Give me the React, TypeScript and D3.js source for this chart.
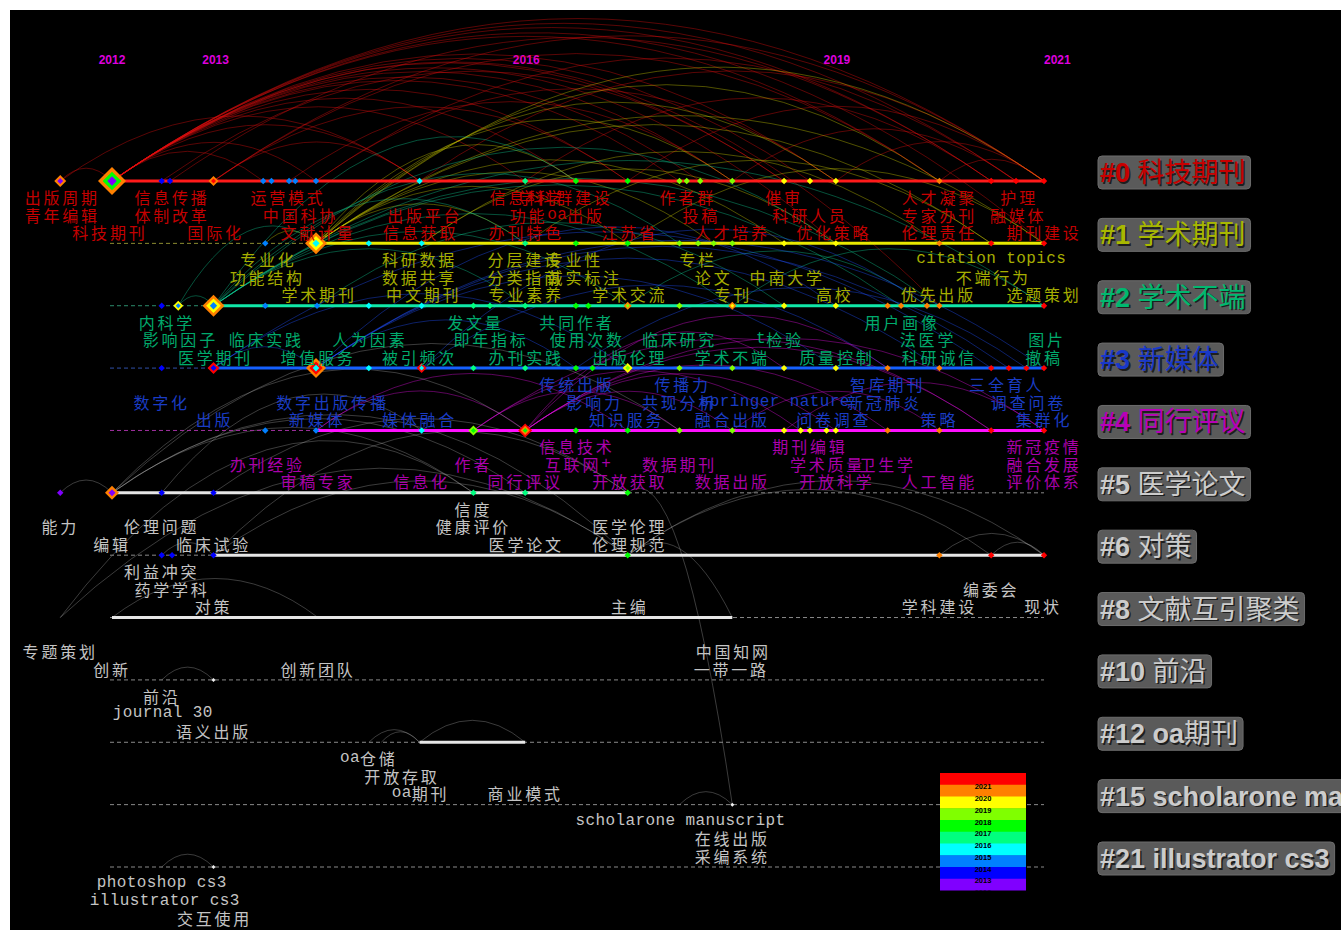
import React from "react";
import * as d3 from "d3";

// ---------- data ----------
const clusterIds = ["#0", "#1", "#2", "#3", "#4", "#5", "#6", "#8", "#10", "#12", "#15", "#21"];
const clusterNames = ["科技期刊", "学术期刊", "学术不端", "新媒体", "同行评议", "医学论文", "对策", "文献互引聚类", "前沿", "oa期刊", "scholarone manuscript", "illustrator cs3"];
const solidStart: (number | null)[] = [2012, 2013.97, 2012.98, 2012.98, 2013.97, 2012, 2012.98, 2012, null, 2014.97, null, null];
const solidEnd: (number | null)[] = [2021, 2021, 2021, 2021, 2021, 2016.98, 2021, 2017.99, null, 2015.99, null, null];

const yearTicks = [2012, 2013, 2016, 2019, 2021];
const legendYears = [2021, 2020, 2019, 2018, 2017, 2016, 2015, 2014, 2013, 2012];
const yearPalette = ["#ff0000", "#ff8000", "#ffff00", "#80ff00", "#00ff00", "#00ff80", "#00ffff", "#0080ff", "#0000ff", "#8000ff"];

const nodes0 = [2011.5, 2012, 2012.48, 2012.56, 2012.98, 2013.46, 2013.54, 2013.71, 2013.77, 2013.97, 2014.97, 2015.99, 2016.48, 2016.98, 2017.48, 2017.55, 2017.68, 2017.99, 2018.49, 2018.74, 2018.99, 2019.99, 2020.49, 2020.73, 2021];
const nodes1 = [2013.48, 2013.97, 2014.48, 2014.99, 2015.99, 2016.48, 2016.98, 2017.48, 2017.66, 2017.81, 2017.99, 2018.49, 2018.99, 2019.99, 2020.49, 2021];
const nodes2 = [2012.48, 2012.64, 2012.98, 2013.48, 2013.98, 2014.48, 2014.99, 2015.49, 2015.65, 2015.99, 2016.48, 2016.6, 2016.98, 2017.48, 2017.99, 2018.49, 2018.99, 2019.49, 2019.62, 2019.87, 2019.99, 2021];
const nodes3 = [2012.48, 2012.98, 2013.97, 2014.48, 2014.99, 2015.49, 2015.99, 2016.48, 2016.64, 2016.98, 2017.48, 2017.99, 2018.49, 2018.99, 2019.49, 2019.99, 2020.49, 2020.66, 2020.83, 2021];
const nodes4 = [2013.48, 2013.97, 2014.99, 2015.49, 2015.99, 2016.48, 2016.98, 2017.48, 2017.99, 2018.49, 2018.65, 2018.74, 2018.9, 2018.99, 2019.49, 2019.99, 2020.49, 2021];
const nodes5 = [2011.5, 2012, 2012.48, 2012.98, 2015.49, 2015.99, 2016.98];
const nodes6 = [2012.48, 2012.58, 2012.98, 2016.98, 2019.99, 2020.49, 2021];
const nodes8: number[] = [];
const nodes10 = [2012.98];
const nodes12: number[] = [];
const nodes15 = [2017.99];
const nodes21 = [2012.98];
const nodeLists = [nodes0, nodes1, nodes2, nodes3, nodes4, nodes5, nodes6, nodes8, nodes10, nodes12, nodes15, nodes21];

// [cluster index, position, size, ring years outer->inner]
const ringNodes: [number, number, number, number[]][] = [
  [0, 2011.5, 6, [2020, 2012]],
  [0, 2012, 14, [2020, 2017, 2012]],
  [0, 2012.98, 5, [2020, 2021]],
  [1, 2013.97, 11, [2020, 2019, 2015]],
  [2, 2012.64, 5, [2019, 2014]],
  [2, 2012.98, 11, [2020, 2019, 2014]],
  [2, 2016.98, 4, [2020, 2018]],
  [2, 2017.99, 4, [2020, 2019]],
  [3, 2012.98, 6, [2021, 2013]],
  [3, 2013.97, 10, [2020, 2021, 2015]],
  [3, 2014.99, 5, [2021, 2015]],
  [3, 2016.98, 5, [2019, 2018]],
  [4, 2015.49, 5, [2018, 2017]],
  [4, 2015.99, 7, [2021, 2020, 2017]],
  [5, 2012, 7, [2020, 2012]],
];

type KW = [string, number, number];
const kw0: KW[] = [
  ["出版周期", 2011.52, 0], ["信息传播", 2012.58, 0], ["运营模式", 2013.7, 0], ["信息科学", 2016.01, 0], ["学科群建设", 2016.38, 0], ["作者群", 2017.56, 0], ["催审", 2018.49, 0], ["人才凝聚", 2019.99, 0], ["护理", 2020.76, 0],
  ["青年编辑", 2011.52, 1], ["体制改革", 2012.58, 1], ["中国科协", 2013.82, 1], ["出版平台", 2015.02, 1], ["功能oa出版", 2016.3, 1], ["投稿", 2017.69, 1], ["科研人员", 2018.74, 1], ["专家办刊", 2019.99, 1], ["融媒体", 2020.75, 1],
  ["科技期刊", 2011.98, 2], ["国际化", 2013.0, 2], ["文献计量", 2013.99, 2], ["信息获取", 2014.98, 2], ["办刊特色", 2016.0, 2], ["江苏省", 2017.0, 2], ["人才培养", 2017.99, 2], ["优化策略", 2018.97, 2], ["伦理责任", 2019.99, 2], ["期刊建设", 2021.0, 2],
];
const kw1: KW[] = [
  ["专业化", 2013.51, 0], ["科研数据", 2014.97, 0], ["分层建设", 2015.99, 0], ["专业性", 2016.47, 0], ["专栏", 2017.66, 0], ["citation topics", 2020.49, 0],
  ["功能结构", 2013.5, 1], ["数据共享", 2014.97, 1], ["分类指南", 2015.99, 1], ["诚实标注", 2016.56, 1], ["论文", 2017.81, 1], ["中南大学", 2018.52, 1], ["不端行为", 2020.51, 1],
  ["学术期刊", 2014.0, 2], ["中文期刊", 2015.01, 2], ["专业素养", 2016.0, 2], ["学术交流", 2017.0, 2], ["专刊", 2018.0, 2], ["高校", 2018.98, 2], ["优先出版", 2019.98, 2], ["选题策划", 2021.0, 2],
];
const kw2: KW[] = [
  ["内科学", 2012.53, 0], ["发文量", 2015.51, 0], ["共同作者", 2016.49, 0], ["用户画像", 2019.63, 0],
  ["影响因子", 2012.66, 1], ["临床实践", 2013.49, 1], ["人为因素", 2014.49, 1], ["即年指标", 2015.66, 1], ["使用次数", 2016.59, 1], ["临床研究", 2017.48, 1], ["t检验", 2018.45, 1], ["法医学", 2019.88, 1], ["图片", 2021.03, 1],
  ["医学期刊", 2013.0, 2], ["增值服务", 2013.99, 2], ["被引频次", 2014.97, 2], ["办刊实践", 2016.0, 2], ["出版伦理", 2017.0, 2], ["学术不端", 2017.99, 2], ["质量控制", 2019.0, 2], ["科研诚信", 2019.99, 2], ["撤稿", 2021.0, 2],
];
const kw3: KW[] = [
  ["传统出版", 2016.49, 0], ["传播力", 2017.51, 0], ["智库期刊", 2019.49, 0], ["三全育人", 2020.64, 0],
  ["数字化", 2012.48, 1], ["数字出版传播", 2014.13, 1], ["影响力", 2016.66, 1], ["共现分析", 2017.48, 1], ["springer nature", 2018.4, 1], ["新冠肺炎", 2019.46, 1], ["调查问卷", 2020.85, 1],
  ["出版", 2012.99, 2], ["新媒体", 2013.98, 2], ["媒体融合", 2014.97, 2], ["知识服务", 2016.97, 2], ["融合出版", 2017.99, 2], ["问卷调查", 2018.97, 2], ["策略", 2019.99, 2], ["集群化", 2021.0, 2],
];
const kw4: KW[] = [
  ["信息技术", 2016.49, 0], ["期刊编辑", 2018.74, 0], ["新冠疫情", 2021.0, 0],
  ["办刊经验", 2013.5, 1], ["作者", 2015.49, 1], ["互联网+", 2016.5, 1], ["数据期刊", 2017.48, 1], ["学术质量", 2018.91, 1], ["卫生学", 2019.49, 1], ["融合发展", 2021.0, 1],
  ["审稿专家", 2013.99, 2], ["信息化", 2014.99, 2], ["同行评议", 2015.99, 2], ["开放获取", 2017.0, 2], ["数据出版", 2017.99, 2], ["开放科学", 2019.0, 2], ["人工智能", 2019.99, 2], ["评价体系", 2021.0, 2],
];
const kw5: KW[] = [
  ["信度", 2015.49, 0], ["能力", 2011.5, 1], ["伦理问题", 2012.48, 1], ["健康评价", 2015.49, 1], ["医学伦理", 2017.0, 1],
  ["编辑", 2012.0, 2], ["临床试验", 2012.98, 2], ["医学论文", 2016.0, 2], ["伦理规范", 2017.0, 2],
];
const kw6: KW[] = [
  ["利益冲突", 2012.48, 0], ["药学学科", 2012.58, 1], ["编委会", 2020.49, 1],
  ["对策", 2012.98, 2], ["主编", 2017.0, 2], ["学科建设", 2019.99, 2], ["现状", 2020.99, 2],
];
const kw8: KW[] = [["专题策划", 2011.5, 1], ["中国知网", 2018.0, 1], ["创新", 2012.0, 2], ["创新团队", 2013.99, 2], ["一带一路", 2017.98, 2]];
const kw10: KW[] = [["前沿", 2012.48, 0], ["journal 30", 2012.49, 1], ["语义出版", 2012.98, 2]];
const kw12: KW[] = [["oa仓储", 2014.48, 0], ["开放存取", 2014.8, 1], ["oa期刊", 2014.98, 2], ["商业模式", 2015.99, 2]];
const kw15: KW[] = [["scholarone manuscript", 2017.49, 0], ["在线出版", 2017.99, 1], ["采编系统", 2017.99, 2]];
const kw21: KW[] = [["photoshop cs3", 2012.48, 0], ["illustrator cs3", 2012.51, 1], ["交互使用", 2012.99, 2]];
const keywordLists = [kw0, kw1, kw2, kw3, kw4, kw5, kw6, kw8, kw10, kw12, kw15, kw21];

// links: [cluster A, pos A, cluster B, pos B]
const links: [number, number, number, number][] = [
  [0, 2012, 0, 2021], [0, 2012, 0, 2020.73], [0, 2012, 0, 2020.49], [0, 2012, 0, 2019.99], [0, 2012, 0, 2018.99], [0, 2012, 0, 2018.74], [0, 2012, 0, 2018.49], [0, 2012, 0, 2017.99], [0, 2012, 0, 2017.68], [0, 2012, 0, 2017.48], [0, 2012, 0, 2016.98], [0, 2012, 0, 2016.48], [0, 2012, 0, 2015.99], [0, 2012, 0, 2014.97], [0, 2012, 0, 2013.97], [0, 2012, 0, 2013.46],
  [0, 2011.5, 0, 2012], [0, 2011.5, 0, 2014.97], [0, 2012.98, 0, 2021], [0, 2012.98, 0, 2019.99], [0, 2012.98, 0, 2016.98], [0, 2012.98, 0, 2014.97], [0, 2013.97, 0, 2020.73], [0, 2013.97, 0, 2018.99], [0, 2014.97, 0, 2021], [0, 2015.99, 0, 2020.49], [0, 2016.98, 0, 2021], [0, 2017.99, 0, 2020.73], [0, 2012.48, 0, 2018.49], [0, 2012.56, 0, 2020.49], [0, 2012, 1, 2018.99], [0, 2012, 1, 2021], [0, 2012, 2, 2019.99], [0, 2013.71, 0, 2017.99], [0, 2018.99, 0, 2021], [0, 2019.99, 0, 2021],
  [1, 2013.97, 0, 2017.99], [1, 2013.97, 0, 2018.99], [1, 2013.97, 0, 2019.99], [1, 2013.97, 1, 2018.49], [1, 2013.97, 1, 2020.49], [1, 2013.97, 1, 2021], [1, 2013.97, 0, 2021], [1, 2013.97, 1, 2016.98], [1, 2013.97, 1, 2017.81], [1, 2013.97, 1, 2015.99], [1, 2013.97, 0, 2016.48], [1, 2014.99, 1, 2019.99], [1, 2014.99, 1, 2018.99], [1, 2015.99, 1, 2020.49], [1, 2013.48, 1, 2013.97], [1, 2016.98, 1, 2021],
  [2, 2012.98, 2, 2016.98], [2, 2012.98, 2, 2017.99], [2, 2012.98, 2, 2019.99], [2, 2012.98, 2, 2021], [2, 2012.98, 1, 2017.48], [2, 2012.98, 1, 2018.99], [2, 2012.98, 2, 2015.99], [2, 2012.98, 0, 2016.48], [2, 2012.98, 2, 2019.62], [2, 2013.98, 2, 2018.49], [2, 2012.64, 2, 2012.98], [2, 2012.64, 1, 2013.97], [2, 2012.98, 1, 2015.99], [2, 2016.98, 2, 2019.87], [2, 2017.99, 2, 2021],
  [3, 2013.97, 3, 2018.99], [3, 2013.97, 3, 2021], [3, 2013.97, 3, 2016.48], [3, 2013.97, 3, 2019.99], [3, 2013.97, 2, 2018.99], [3, 2013.97, 3, 2020.66], [3, 2012.98, 3, 2016.98], [3, 2012.98, 3, 2020.49], [3, 2014.99, 3, 2019.49], [3, 2014.99, 2, 2019.87], [3, 2016.48, 3, 2020.83], [3, 2012.98, 3, 2013.97],
  [4, 2015.99, 4, 2018.99], [4, 2015.99, 4, 2020.49], [4, 2015.99, 4, 2021], [4, 2015.99, 4, 2017.99], [4, 2015.99, 3, 2019.49], [4, 2015.99, 4, 2019.49], [4, 2015.99, 3, 2018.49], [4, 2013.97, 4, 2015.99], [4, 2013.97, 4, 2016.98], [4, 2015.49, 4, 2017.48], [4, 2015.49, 4, 2018.65], [4, 2015.49, 4, 2020.49], [4, 2018.49, 4, 2021], [4, 2017.99, 4, 2019.99],
  [5, 2011.5, 5, 2012], [5, 2012, 5, 2015.49], [5, 2012, 5, 2015.99], [5, 2012, 4, 2015.99], [5, 2012, 4, 2017.48], [5, 2012.98, 5, 2016.98], [5, 2012, 6, 2016.98], [5, 2012.48, 4, 2014.99], [7, 2011.5, 5, 2015.49], [7, 2011.5, 6, 2016.98], [6, 2012.98, 6, 2016.98], [6, 2016.98, 6, 2021], [6, 2019.99, 6, 2021], [6, 2020.49, 6, 2021], [6, 2016.98, 6, 2020.49], [6, 2012.48, 6, 2012.98], [6, 2012.98, 5, 2016.98], [7, 2012, 7, 2013.99],
  [8, 2012.48, 8, 2012.98], [9, 2014.48, 9, 2014.97], [9, 2014.6, 9, 2014.97], [9, 2014.97, 9, 2015.99], [10, 2017.48, 10, 2017.99], [11, 2012.48, 11, 2012.98], [10, 2017.99, 5, 2016.98], [7, 2017.99, 6, 2016.98],
];

// ---------- styles ----------
const lineColors = ["#ff1a1a", "#e8e800", "#10e8a8", "#1460ff", "#ff10ff", "#e6e6e6", "#e6e6e6", "#e6e6e6", "#e6e6e6", "#e6e6e6", "#e6e6e6", "#e6e6e6"];
const dashColors = ["#a03030", "#8c8c30", "#2c8c6c", "#3050a8", "#a030a0", "#8a8a8a", "#8a8a8a", "#8a8a8a", "#8a8a8a", "#8a8a8a", "#8a8a8a", "#8a8a8a"];
const textColors = ["#c40000", "#a6ae00", "#00aa6c", "#1a3cc4", "#aa00aa", "#c4c4c4", "#c4c4c4", "#c4c4c4", "#c4c4c4", "#c4c4c4", "#c4c4c4", "#c4c4c4"];
const tagColors = ["#c80000", "#a8b800", "#00b870", "#1838c8", "#b800b8", "#cccccc", "#cccccc", "#cccccc", "#cccccc", "#cccccc", "#cccccc", "#cccccc"];
const linkColors = ["#e01010", "#c8c800", "#10c890", "#2050ff", "#e010e0", "#b8b8b8", "#b8b8b8", "#b8b8b8", "#b8b8b8", "#b8b8b8", "#b8b8b8", "#b8b8b8"];

const CJK = "'Noto Sans CJK SC', 'Noto Sans CJK JP', sans-serif";
const MONO = "'Liberation Mono', 'DejaVu Sans Mono', monospace";
const SANS = "'Liberation Sans', Arial, 'Noto Sans CJK SC', sans-serif";

const x = d3.scaleLinear().domain([2012, 2021]).range([112, 1044]);
const y = d3.scalePoint<string>().domain(clusterIds).range([181, 867]);
const yearColor = d3.scaleOrdinal<number, string>().domain(legendYears).range(yearPalette);
const levelOffset = [16, 33.5, 51];

function nodeColor(pos: number, ci: number) {
  if (ci >= 8) return "#f0f0f0";
  return yearColor(Math.ceil(pos - 0.02));
}

function diamond(cx: number, cy: number, s: number) {
  const p = d3.path();
  p.moveTo(cx, cy - s);
  p.lineTo(cx + s, cy);
  p.lineTo(cx, cy + s);
  p.lineTo(cx - s, cy);
  p.closePath();
  return p.toString();
}

function arcPath(ca: number, pa: number, cb: number, pb: number) {
  const x1 = x(pa), y1 = y(clusterIds[ca])!, x2 = x(pb), y2 = y(clusterIds[cb])!;
  const h = 0.17 * Math.abs(x2 - x1) + 4;
  const p = d3.path();
  p.moveTo(x1, y1);
  p.quadraticCurveTo((x1 + x2) / 2, Math.min(y1, y2) - 2 * h, x2, y2);
  return p.toString();
}

function splitRuns(t: string) {
  return t.match(/[\x00-\x7F]+|[^\x00-\x7F]+/g) || [];
}

function Label({ text, cx, cy, color }: { text: string; cx: number; cy: number; color: string }) {
  return (
    <text x={cx} y={cy} textAnchor="middle" dominantBaseline="central" fill={color} fontSize={16}>
      {splitRuns(text).map((r, i) => {
        const ascii = /^[\x00-\x7F]+$/.test(r);
        return (
          <tspan key={i} fontFamily={ascii ? MONO : CJK} style={{ letterSpacing: ascii ? "0.4px" : "2.8px", whiteSpace: "pre" }}>
            {r}
          </tspan>
        );
      })}
    </text>
  );
}

function TagText({ text, tx, ty, fill }: { text: string; tx: number; ty: number; fill: string }) {
  return (
    <text x={tx} y={ty} fill={fill} fontSize={27} fontFamily={SANS}>
      {splitRuns(text).map((r, i) => {
        const ascii = /^[\x00-\x7F]+$/.test(r);
        return (
          <tspan key={i} fontWeight={ascii ? "bold" : "normal"} fontFamily={ascii ? SANS : CJK} style={{ whiteSpace: "pre" }}>
            {r}
          </tspan>
        );
      })}
    </text>
  );
}

let measureCtx: CanvasRenderingContext2D | null = null;
function measureTag(t: string) {
  if (!measureCtx) {
    const c = document.createElement("canvas");
    measureCtx = c.getContext("2d");
  }
  if (!measureCtx) return t.length * 18;
  let w = 0;
  for (const r of splitRuns(t)) {
    const ascii = /^[\x00-\x7F]+$/.test(r);
    measureCtx.font = ascii ? `bold 27px ${SANS}` : `27px ${CJK}`;
    w += measureCtx.measureText(r).width;
  }
  return w;
}

export default function App() {
  const legendX = 940, legendY = 773, legendW = 86, bandH = 11.75;
  return (
    <svg width={1341} height={930} style={{ position: "absolute", left: 0, top: 0, display: "block", background: "#fff" }}>
      <defs>
        <clipPath id="legclip">
          <rect x={legendX} y={legendY} width={legendW} height={bandH * legendYears.length} />
        </clipPath>
      </defs>
      <rect x={10} y={10} width={1331} height={920} fill="#000" />

      {/* year ticks */}
      {yearTicks.map((yr, i) => (
        <text key={yr} x={x(yr)} y={60} textAnchor={i === yearTicks.length - 1 ? "start" : "middle"} dominantBaseline="central" fill="#dd00dd" fontFamily={SANS} fontWeight="bold" fontSize={12}>
          {yr}
        </text>
      ))}

      {/* links */}
      <g fill="none" strokeWidth={1}>
        {links.map(([ca, pa, cb, pb], i) => (
          <path key={i} d={arcPath(ca, pa, cb, pb)} stroke={linkColors[ca]} strokeOpacity={ca < 5 ? 0.4 : 0.32} />
        ))}
      </g>

      {/* timelines */}
      {clusterIds.map((id, ci) => {
        const yy = y(id)!;
        const s = solidStart[ci], e = solidEnd[ci];
        return (
          <g key={id}>
            <line x1={x(2012) - 2} x2={x(2021)} y1={yy} y2={yy} stroke={dashColors[ci]} strokeWidth={1} strokeDasharray="4 3" />
            {s !== null && e !== null && (
              <line x1={x(s)} x2={x(e)} y1={yy} y2={yy} stroke={lineColors[ci]} strokeWidth={3} />
            )}
          </g>
        );
      })}

      {/* nodes */}
      {nodeLists.map((list, ci) =>
        list.map((pos, j) => (
          <path key={`${ci}-${j}`} d={diamond(x(pos), y(clusterIds[ci])!, ci >= 8 ? 2 : 3.2)} fill={nodeColor(pos, ci)} />
        ))
      )}
      {ringNodes.map(([ci, pos, size, rings], i) => (
        <g key={`r${i}`}>
          {rings.map((yr, k) => (
            <path key={k} d={diamond(x(pos), y(clusterIds[ci])!, (size * (rings.length - k)) / rings.length)} fill={yearColor(yr)} />
          ))}
        </g>
      ))}

      {/* keyword labels */}
      {keywordLists.map((list, ci) =>
        list.map(([t, pos, lvl], j) => (
          <Label key={`${ci}-${j}`} text={t} cx={x(pos)} cy={y(clusterIds[ci])! + levelOffset[lvl]} color={textColors[ci]} />
        ))
      )}

      {/* cluster tags */}
      {clusterIds.map((id, ci) => {
        const yy = y(id)!;
        const t = `${id} ${clusterNames[ci]}`;
        const w = measureTag(t) + 7;
        return (
          <g key={`tag${id}`}>
            <rect x={1098} y={yy - 25} width={w} height={33} rx={4} fill="#5a5a5a" stroke="#6c6c6c" strokeWidth={1} />
            <TagText text={t} tx={1101.5} ty={yy + 2.5} fill="#1e1e1e" />
            <TagText text={t} tx={1100} ty={yy + 1} fill={tagColors[ci]} />
          </g>
        );
      })}

      {/* legend */}
      <g clipPath="url(#legclip)">
        {legendYears.map((yr, i) => (
          <rect key={yr} x={legendX} y={legendY + i * bandH} width={legendW} height={bandH + 0.5} fill={yearColor(yr)} />
        ))}
        {legendYears.map((yr, i) => (
          <text key={`t${yr}`} x={legendX + legendW / 2} y={legendY + (i + 1) * bandH + 2} textAnchor="middle" dominantBaseline="central" fill="#000" fontFamily={SANS} fontWeight="bold" fontSize={7.5}>
            {yr}
          </text>
        ))}
      </g>
    </svg>
  );
}
